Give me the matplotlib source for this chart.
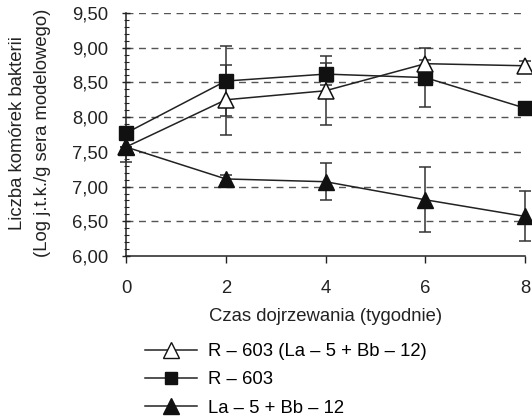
import matplotlib
matplotlib.use("Agg")
import matplotlib.pyplot as plt
from matplotlib.ticker import MultipleLocator
from matplotlib.lines import Line2D

plt.rcParams['font.family'] = ['Liberation Sans', 'DejaVu Sans']

weeks = [0, 2, 4, 6, 8]
# R - 603 (La - 5 + Bb - 12)  (open triangles)
mix_vals = [7.57, 8.25, 8.38, 8.77, 8.74]
mix_err = [0.0, 0.50, 0.50, 0.05, 0.07]
# R - 603 (filled squares)
r603_vals = [7.77, 8.52, 8.62, 8.57, 8.13]
r603_err = [0.0, 0.50, 0.16, 0.43, 0.05]
# La - 5 + Bb - 12 (filled triangles)
lab_vals = [7.57, 7.11, 7.07, 6.81, 6.57]
lab_err = [0.22, 0.06, 0.27, 0.47, 0.36]

labels = ["R – 603 (La – 5 + Bb – 12)", "R – 603", "La – 5 + Bb – 12"]
yticks = [6.0, 6.5, 7.0, 7.5, 8.0, 8.5, 9.0, 9.5]
ytick_labels = ["6,00", "6,50", "7,00", "7,50", "8,00", "8,50", "9,00", "9,50"]

FS = 13.3
W, H = 532, 419
fig = plt.figure(figsize=(W / 100, H / 100), dpi=100)
ax = fig.add_axes([126 / W, 1 - 256 / H, (525 - 126) / W, (256 - 13) / H])

dark = '#222222'
ebkw = dict(ecolor='#333333', elinewidth=1.1, capsize=4, capthick=1.1, clip_on=False)

ax.errorbar(weeks, r603_vals, yerr=r603_err, fmt='none', zorder=3, **ebkw)
ax.errorbar(weeks, mix_vals, yerr=mix_err, fmt='none', zorder=3, **ebkw)
ax.errorbar(weeks, lab_vals, yerr=lab_err, fmt='none', zorder=3, **ebkw)

ax.plot(weeks, r603_vals, color=dark, lw=1.1, marker='s', ms=9.5,
        mfc='#111111', mec='#111111', zorder=4, clip_on=False)
ax.plot(weeks, mix_vals, color=dark, lw=1.1, marker='^', ms=11,
        mfc='white', mec='#111111', mew=1.1, zorder=5, clip_on=False)
ax.plot(weeks, lab_vals, color=dark, lw=1.1, marker='^', ms=12,
        mfc='#111111', mec='#111111', zorder=5, clip_on=False)

ax.set_xlim(0, 8)
ax.set_ylim(6.0, 9.5)
ax.set_xticks([0, 2, 4, 6, 8])
ax.set_xticklabels(["0", "2", "4", "6", "8"])
ax.set_yticks(yticks)
ax.set_yticklabels(ytick_labels)
ax.yaxis.set_minor_locator(MultipleLocator(0.1))

for y in yticks[1:]:
    ax.axhline(y, color='#555555', lw=1.0, ls=(0, (5, 4)), zorder=1)

for s in ['top', 'right']:
    ax.spines[s].set_visible(False)
for s in ['left', 'bottom']:
    ax.spines[s].set_color('#222222')
    ax.spines[s].set_linewidth(1.1)

ax.tick_params(axis='y', which='major', direction='inout', length=6, width=1.0,
               labelsize=FS, pad=10, colors='#222222')
ax.tick_params(axis='y', which='minor', direction='inout', length=3.6, width=0.8,
               colors='#222222')
ax.tick_params(axis='x', which='major', direction='out', length=5, width=1.0,
               labelsize=FS, pad=12, colors='#222222')
ax.tick_params(axis='x', which='minor', length=0)

ax.set_xlabel("Czas dojrzewania (tygodnie)", fontsize=FS, color='#222222', labelpad=8)
fig.text(18 / W, 1 - 133 / H, "Liczba komórek bakterii", rotation=90,
         ha='center', va='center', fontsize=FS, color='#222222')
fig.text(43 / W, 1 - 133 / H, "(Log j.t.k./g sera modelowego)", rotation=90,
         ha='center', va='center', fontsize=FS, color='#222222')

handles = [
    Line2D([], [], color=dark, lw=1.1, marker='^', ms=11, mfc='white', mec='#111111'),
    Line2D([], [], color=dark, lw=1.1, marker='s', ms=8, mfc='#111111', mec='#111111'),
    Line2D([], [], color=dark, lw=1.1, marker='^', ms=12, mfc='#111111', mec='#111111'),
]
fig.legend(handles, labels, loc='upper left', bbox_to_anchor=(145 / W, 1 - 343 / H),
           frameon=False, fontsize=FS, handlelength=2.8, labelspacing=0.62,
           handletextpad=0.6, borderaxespad=0, borderpad=0)

fig.savefig("out.png", dpi=100)
